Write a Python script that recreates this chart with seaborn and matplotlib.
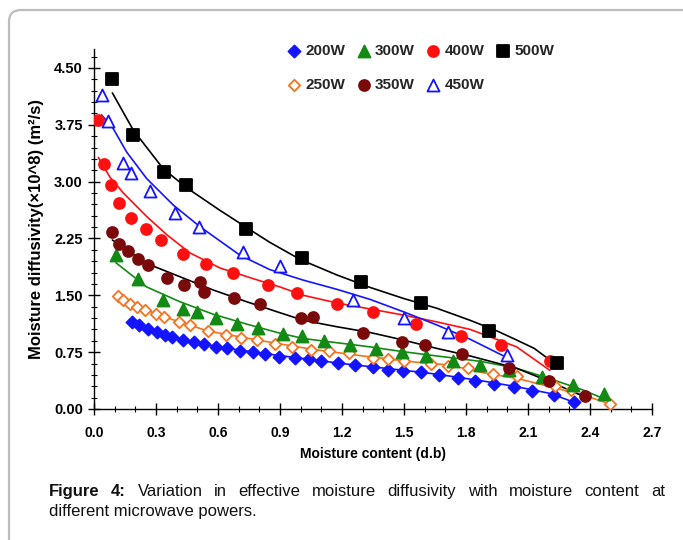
import numpy as np
import pandas as pd
import seaborn as sns
import matplotlib
matplotlib.use("Agg")
import matplotlib.pyplot as plt
from matplotlib.patches import FancyBboxPatch
from matplotlib.transforms import IdentityTransform
from matplotlib.ticker import MultipleLocator

# ---------------- data ----------------
x_200 = [0.185, 0.219, 0.26, 0.303, 0.343, 0.379, 0.43, 0.484, 0.534, 0.589, 0.642, 0.706, 0.768,
         0.827, 0.895, 0.972, 1.04, 1.098, 1.18, 1.263, 1.348, 1.424, 1.496, 1.58, 1.67, 1.76,
         1.843, 1.935, 2.033, 2.12, 2.227, 2.324]
y_200 = [1.144, 1.108, 1.05, 1.01, 0.976, 0.946, 0.91, 0.88, 0.854, 0.822, 0.80, 0.77, 0.748,
         0.722, 0.69, 0.668, 0.656, 0.633, 0.603, 0.58, 0.558, 0.515, 0.50, 0.484, 0.449, 0.413,
         0.37, 0.33, 0.294, 0.24, 0.185, 0.088]
x_250 = [0.118, 0.139, 0.174, 0.21, 0.247, 0.30, 0.34, 0.41, 0.464, 0.55, 0.64, 0.71, 0.79,
         0.876, 0.96, 1.048, 1.138, 1.234, 1.35, 1.424, 1.50, 1.63, 1.714, 1.81, 1.93, 2.045,
         2.23, 2.31, 2.496]
y_250 = [1.49, 1.44, 1.39, 1.34, 1.30, 1.25, 1.22, 1.15, 1.11, 1.03, 0.98, 0.935, 0.915,
         0.857, 0.82, 0.78, 0.77, 0.735, 0.675, 0.656, 0.633, 0.594, 0.571, 0.54, 0.46, 0.435,
         0.30, 0.25, 0.07]
x_300 = [0.106, 0.211, 0.335, 0.432, 0.50, 0.59, 0.69, 0.792, 0.913, 1.005, 1.113, 1.24, 1.364,
         1.49, 1.606, 1.735, 1.87, 2.01, 2.17, 2.32, 2.47]
y_300 = [2.03, 1.71, 1.44, 1.32, 1.275, 1.195, 1.117, 1.065, 0.99, 0.963, 0.897, 0.844, 0.787,
         0.752, 0.70, 0.637, 0.58, 0.52, 0.426, 0.317, 0.198]
x_350 = [0.089, 0.122, 0.166, 0.211, 0.263, 0.355, 0.435, 0.513, 0.532, 0.679, 0.803, 1.0, 1.061,
         1.30, 1.489, 1.60, 1.78, 2.01, 2.20, 2.375]
y_350 = [2.33, 2.18, 2.09, 1.98, 1.90, 1.73, 1.64, 1.68, 1.54, 1.47, 1.38, 1.20, 1.21,
         1.00, 0.89, 0.85, 0.73, 0.545, 0.37, 0.175]
x_400 = [0.021, 0.048, 0.082, 0.122, 0.179, 0.25, 0.324, 0.43, 0.54, 0.674, 0.84, 0.98, 1.174,
         1.35, 1.56, 1.776, 1.97, 2.206]
y_400 = [3.81, 3.23, 2.95, 2.72, 2.52, 2.37, 2.23, 2.05, 1.91, 1.79, 1.63, 1.53, 1.38,
         1.28, 1.12, 0.967, 0.85, 0.63]
x_450 = [0.037, 0.069, 0.139, 0.18, 0.27, 0.39, 0.508, 0.722, 0.90, 1.253, 1.50, 1.714, 2.0]
y_450 = [4.14, 3.80, 3.25, 3.12, 2.88, 2.59, 2.405, 2.075, 1.89, 1.44, 1.20, 1.02, 0.71]
x_500 = [0.087, 0.19, 0.34, 0.445, 0.735, 1.006, 1.29, 1.58, 1.91, 2.24]
y_500 = [4.35, 3.61, 3.13, 2.95, 2.37, 1.99, 1.68, 1.40, 1.03, 0.61]

# fitted (model) curves
fx_200 = [0.185, 0.30, 0.45, 0.60, 0.80, 1.00, 1.20, 1.40, 1.60, 1.72, 1.88, 2.045, 2.206, 2.324]
fy_200 = [1.15, 1.01, 0.90, 0.82, 0.74, 0.67, 0.60, 0.54, 0.48, 0.435, 0.37, 0.294, 0.206, 0.088]
fx_250 = [0.118, 0.30, 0.55, 0.80, 1.05, 1.30, 1.55, 1.72, 1.88, 2.045, 2.206, 2.367, 2.496]
fy_250 = [1.50, 1.25, 1.03, 0.905, 0.79, 0.70, 0.62, 0.58, 0.48, 0.405, 0.294, 0.185, 0.066]
fx_300 = [0.106, 0.255, 0.416, 0.577, 0.739, 0.90, 1.013, 1.174, 1.335, 1.496, 1.658, 1.82,
          1.88, 2.045, 2.206, 2.367, 2.48]
fy_300 = [1.93, 1.61, 1.415, 1.25, 1.12, 1.00, 0.93, 0.875, 0.82, 0.756, 0.70, 0.646,
          0.624, 0.537, 0.40, 0.25, 0.12]
fx_350 = [0.089, 0.255, 0.416, 0.577, 0.739, 0.90, 1.013, 1.174, 1.335, 1.496, 1.658, 1.82,
          2.045, 2.206, 2.367]
fy_350 = [2.23, 1.92, 1.745, 1.57, 1.415, 1.27, 1.17, 1.086, 1.01, 0.91, 0.80, 0.70,
          0.537, 0.36, 0.17]
fx_400 = [0.021, 0.077, 0.142, 0.255, 0.352, 0.464, 0.61, 0.77, 0.90, 1.013, 1.174, 1.335,
          1.496, 1.658, 1.82, 2.045, 2.206]
fy_400 = [3.32, 3.06, 2.85, 2.54, 2.30, 2.06, 1.86, 1.72, 1.61, 1.50, 1.40, 1.32,
          1.24, 1.15, 1.05, 0.82, 0.51]
fx_450 = [0.037, 0.093, 0.158, 0.255, 0.384, 0.513, 0.706, 0.85, 1.013, 1.174, 1.335, 1.496,
          1.658, 1.82, 1.997]
fy_450 = [3.88, 3.70, 3.39, 3.04, 2.69, 2.405, 2.03, 1.84, 1.70, 1.58, 1.447, 1.284,
          1.11, 0.92, 0.68]
fx_500 = [0.089, 0.19, 0.335, 0.448, 0.61, 0.735, 0.85, 1.0, 1.174, 1.335, 1.496, 1.658, 1.82,
          1.95, 2.045, 2.13, 2.206]
fy_500 = [4.17, 3.68, 3.17, 2.92, 2.62, 2.40, 2.20, 1.97, 1.77, 1.605, 1.46, 1.33, 1.17,
          1.03, 0.91, 0.80, 0.646]

labels = ["200W", "250W", "300W", "350W", "400W", "450W", "500W"]
x_tick_labels = ["0.0", "0.3", "0.6", "0.9", "1.2", "1.5", "1.8", "2.1", "2.4", "2.7"]
y_tick_labels = ["0.00", "0.75", "1.50", "2.25", "3.00", "3.75", "4.50"]

series = [
    ("200W", x_200, y_200, fx_200, fy_200),
    ("250W", x_250, y_250, fx_250, fy_250),
    ("300W", x_300, y_300, fx_300, fy_300),
    ("350W", x_350, y_350, fx_350, fy_350),
    ("400W", x_400, y_400, fx_400, fy_400),
    ("450W", x_450, y_450, fx_450, fy_450),
    ("500W", x_500, y_500, fx_500, fy_500),
]

# ---------------- styles ----------------
style = {
    "200W": dict(marker="D", face="#1414ff", edge="#1414ff", line="#1414ff", s=38),
    "250W": dict(marker="D", face="white", edge="#f5731e", line="#f5731e", s=34),
    "300W": dict(marker="^", face="#138a13", edge="#138a13", line="#138a13", s=75),
    "350W": dict(marker="o", face="#7a0a0a", edge="#7a0a0a", line="black", s=62),
    "400W": dict(marker="o", face="#ff1010", edge="#ff1010", line="#ff1010", s=62),
    "450W": dict(marker="^", face="white", edge="#1414ff", line="#1414ff", s=75),
    "500W": dict(marker="s", face="black", edge="black", line="black", s=66),
}

sns.set_theme(style="white")
plt.rcParams["font.family"] = ["Liberation Sans", "DejaVu Sans"]

fig = plt.figure(figsize=(6.83, 5.40), dpi=100)
ax = fig.add_axes([94 / 683, 1 - 409 / 540, (652 - 94) / 683, (409 - 49) / 540])

for name, xs, ys, fxs, fys in series:
    st = style[name]
    sns.lineplot(x=fxs, y=fys, ax=ax, color=st["line"], lw=1.2, sort=False,
                 estimator=None, legend=False, zorder=2)
for name, xs, ys, fxs, fys in series:
    st = style[name]
    sns.scatterplot(x=xs, y=ys, ax=ax, marker=st["marker"], s=st["s"],
                    color=st["face"], edgecolor=st["edge"], linewidth=1.3,
                    label=name, zorder=3)

ax.set_xlim(0, 2.7)
ax.set_ylim(0, 4.75)
ax.set_xticks([0.3 * i for i in range(len(x_tick_labels))])
ax.set_xticklabels(x_tick_labels)
ax.set_yticks([0.75 * i for i in range(len(y_tick_labels))])
ax.set_yticklabels(y_tick_labels)
ax.xaxis.set_minor_locator(MultipleLocator(0.1))
ax.yaxis.set_minor_locator(MultipleLocator(0.15))

for sp in ["top", "right"]:
    ax.spines[sp].set_visible(False)
for sp in ["left", "bottom"]:
    ax.spines[sp].set_color("black")
    ax.spines[sp].set_linewidth(1.0)

ax.tick_params(axis="both", which="major", direction="inout", length=8, width=1.0,
               color="black", left=True, bottom=True)
ax.tick_params(axis="both", which="minor", direction="inout", length=4, width=0.8,
               color="black", left=True, bottom=True)
ax.tick_params(axis="x", which="major", pad=8)
ax.tick_params(axis="y", which="major", pad=4)

narrow = ["Liberation Sans Narrow", "Liberation Sans", "DejaVu Sans"]
for t in ax.get_xticklabels():
    t.set_fontfamily(narrow)
    t.set_fontweight("bold")
    t.set_fontsize(10)
    t.set_color("black")
for t in ax.get_yticklabels():
    t.set_fontweight("bold")
    t.set_fontsize(10.5)
    t.set_color("black")

ax.set_xlabel("Moisture content (d.b)", fontfamily=narrow, fontweight="bold",
              fontsize=10, color="black", labelpad=5)
ax.set_ylabel("Moisture diffusivity(×10^8) (m²/s)", fontweight="bold",
              fontsize=12, color="black", labelpad=7)
ax.grid(False)

leg = ax.legend(ncol=4, loc="upper left", bbox_to_anchor=(287 / 683, 1 - 44 / 540),
                bbox_transform=fig.transFigure, frameon=False,
                prop=dict(weight="bold", size=11), handlelength=0.9,
                handletextpad=0.3, columnspacing=0.75, labelspacing=1.3,
                borderaxespad=0, borderpad=0)

# frame round the whole figure
frame = FancyBboxPatch((9, -60), 700, 590, boxstyle="round,pad=0,rounding_size=12",
                       transform=IdentityTransform(), facecolor="none",
                       edgecolor="#bdbdbd", linewidth=1.6, clip_on=False)
fig.patches.append(frame)

# caption, justified first line
cap_font = narrow
fs_cap = 12
renderer = fig.canvas.get_renderer()
words1 = [("Figure", "bold"), ("4:", "bold"), ("Variation", "normal"), ("in", "normal"),
          ("effective", "normal"), ("moisture", "normal"), ("diffusivity", "normal"),
          ("with", "normal"), ("moisture", "normal"), ("content", "normal"), ("at", "normal")]
left_px, right_px = 49, 665
y1 = 1 - 496 / 540
texts = []
for w, wt in words1:
    t = fig.text(0, y1, w, fontfamily=cap_font, fontweight=wt, fontsize=fs_cap,
                 color="#111111", va="baseline", ha="left")
    texts.append(t)
widths = [t.get_window_extent(renderer).width for t in texts]
gap = (right_px - left_px - sum(widths)) / (len(texts) - 1)
xpos = left_px
for t, w in zip(texts, widths):
    t.set_x(xpos / 683)
    xpos += w + gap
fig.text(left_px / 683, 1 - 516 / 540, "different microwave powers.", fontfamily=cap_font,
         fontsize=fs_cap, color="#111111", va="baseline", ha="left")

fig.savefig("out.png", dpi=100)
